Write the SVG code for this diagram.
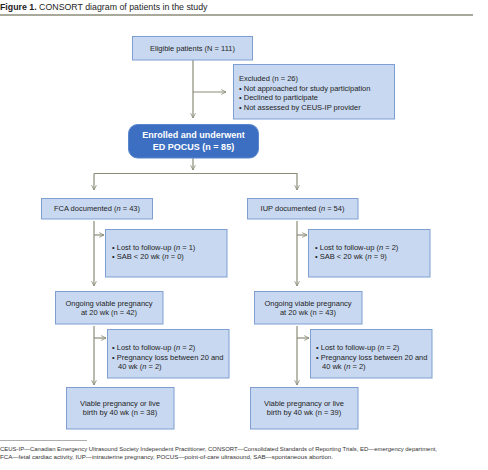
<svg xmlns="http://www.w3.org/2000/svg" width="488" height="470" viewBox="0 0 488 470">
<defs>
<style>
text{font-family:"Liberation Sans",Arial,sans-serif;fill:#1e1e1e;}
.t{font-size:7.5px;}
.c{text-anchor:middle;}
.box{fill:#c8d8f0;stroke:#7f9fd3;stroke-width:1;}
.main{fill:#3c6fc2;stroke:#5a86cc;stroke-width:1;}
.w{font-size:9px;font-weight:bold;fill:#fff;text-anchor:middle;}
.ln{fill:none;stroke:#8b8b79;stroke-width:1.2;}
.fn{font-size:5.8px;fill:#333;}
</style>
<marker id="ah" viewBox="0 0 10 10" refX="9" refY="5" markerWidth="6" markerHeight="6" markerUnits="userSpaceOnUse" orient="auto">
<path d="M1,1 L9,5 L1,9" fill="none" stroke="#8b8b79" stroke-width="1.4"/>
</marker>
</defs>
<rect width="488" height="470" fill="#fff"/>
<g id="title">
<text x="0" y="9.5" style="font-size:8.8px"><tspan font-weight="bold">Figure 1.</tspan> CONSORT diagram of patients in the study</text>
<line x1="0" y1="15" x2="473" y2="15" stroke="#8c8c7a" stroke-width="1.3"/>
</g>
<g id="connectors">
<path class="ln" d="M193,60 V118" marker-end="url(#ah)"/>
<path class="ln" d="M193,92 H226" marker-end="url(#ah)"/>
<path class="ln" d="M193,158 V170" marker-end="url(#ah)"/>
<path class="ln" d="M94,173.5 H297 V190" marker-end="url(#ah)"/>
<path class="ln" d="M94,173.5 V190" marker-end="url(#ah)"/>
<path class="ln" d="M94,221 V286" marker-end="url(#ah)"/>
<path class="ln" d="M94,235 H104" marker-end="url(#ah)"/>
<path class="ln" d="M94,326 V385" marker-end="url(#ah)"/>
<path class="ln" d="M94,338 H106" marker-end="url(#ah)"/>
<path class="ln" d="M297,221 V286" marker-end="url(#ah)"/>
<path class="ln" d="M297,235 H307" marker-end="url(#ah)"/>
<path class="ln" d="M297,326 V385" marker-end="url(#ah)"/>
<path class="ln" d="M297,338 H309" marker-end="url(#ah)"/>
</g>
<g id="eligible">
<rect class="box" x="132.5" y="36.5" width="120" height="23.5"/>
<text class="t c" x="192.5" y="50.7">Eligible patients (N = 111)</text>
</g>
<g id="excluded">
<rect class="box" x="233.5" y="64.5" width="161" height="54.5"/>
<text class="t" x="239" y="81">Excluded (n = 26)</text>
<text class="t" x="239" y="90.5">• Not approached for study participation</text>
<text class="t" x="239" y="100">• Declined to participate</text>
<text class="t" x="239" y="109.5">• Not assessed by CEUS-IP provider</text>
</g>
<g id="enrolled">
<rect class="main" x="128.5" y="124.5" width="130" height="33.5" rx="9"/>
<text class="w" x="193.5" y="138.3">Enrolled and underwent</text>
<text class="w" x="193.5" y="150.3">ED POCUS (n = 85)</text>
</g>
<g id="fca">
<rect class="box" x="41.5" y="198.5" width="111" height="20.5"/>
<text class="t c" x="97" y="210.7">FCA documented (<tspan font-style="italic">n</tspan> = 43)</text>
</g>
<g id="iup">
<rect class="box" x="247.5" y="198.5" width="110.5" height="20.5"/>
<text class="t c" x="302.5" y="210.7">IUP documented (<tspan font-style="italic">n</tspan> = 54)</text>
</g>
<g id="fca-loss">
<rect class="box" x="105.5" y="229.5" width="121.5" height="47.5"/>
<text class="t" x="112" y="250">• Lost to follow-up (<tspan font-style="italic">n</tspan> = 1)</text>
<text class="t" x="112" y="259">• SAB &lt; 20 wk (<tspan font-style="italic">n</tspan> = 0)</text>
</g>
<g id="iup-loss">
<rect class="box" x="308.5" y="229.5" width="121.5" height="47.5"/>
<text class="t" x="315" y="250">• Lost to follow-up (<tspan font-style="italic">n</tspan> = 2)</text>
<text class="t" x="315" y="259">• SAB &lt; 20 wk (<tspan font-style="italic">n</tspan> = 9)</text>
</g>
<g id="fca-ongoing">
<rect class="box" x="55.5" y="291.5" width="107.5" height="32.5"/>
<text class="t c" x="109" y="305.7">Ongoing viable pregnancy</text>
<text class="t c" x="109" y="315">at 20 wk (n = 42)</text>
</g>
<g id="iup-ongoing">
<rect class="box" x="254.5" y="291.5" width="107.5" height="32.5"/>
<text class="t c" x="308" y="305.7">Ongoing viable pregnancy</text>
<text class="t c" x="308" y="315">at 20 wk (n = 43)</text>
</g>
<g id="fca-loss2">
<rect class="box" x="107.5" y="329.5" width="121.5" height="48.5"/>
<text class="t" x="112" y="350">• Lost to follow-up (<tspan font-style="italic">n</tspan> = 2)</text>
<text class="t" x="112" y="359.7">• Pregnancy loss between 20 and</text>
<text class="t" x="118" y="369.4">40 wk (<tspan font-style="italic">n</tspan> = 2)</text>
</g>
<g id="iup-loss2">
<rect class="box" x="310.5" y="329.5" width="121.5" height="48.5"/>
<text class="t" x="316" y="350">• Lost to follow-up (<tspan font-style="italic">n</tspan> = 2)</text>
<text class="t" x="316" y="359.7">• Pregnancy loss between 20 and</text>
<text class="t" x="322" y="369.4">40 wk (<tspan font-style="italic">n</tspan> = 2)</text>
</g>
<g id="fca-viable">
<rect class="box" x="66.5" y="387.5" width="107.5" height="41.5"/>
<text class="t c" x="120" y="405.7">Viable pregnancy or live</text>
<text class="t c" x="120" y="415.2">birth by 40 wk (n = 38)</text>
</g>
<g id="iup-viable">
<rect class="box" x="250.5" y="387.5" width="107.5" height="41.5"/>
<text class="t c" x="304" y="405.7">Viable pregnancy or live</text>
<text class="t c" x="304" y="415.2">birth by 40 wk (n = 39)</text>
</g>
<g id="footnote">
<line x1="0" y1="440.5" x2="87" y2="440.5" stroke="#777" stroke-width="0.6"/>
<text class="fn" x="0" y="451" textLength="437" lengthAdjust="spacingAndGlyphs">CEUS-IP—Canadian Emergency Ultrasound Society Independent Practitioner, CONSORT—Consolidated Standards of Reporting Trials, ED—emergency department,</text>
<text class="fn" x="0" y="459" textLength="333" lengthAdjust="spacingAndGlyphs">FCA—fetal cardiac activity, IUP—intrauterine pregnancy, POCUS—point-of-care ultrasound, SAB—spontaneous abortion.</text>
</g>
</svg>
